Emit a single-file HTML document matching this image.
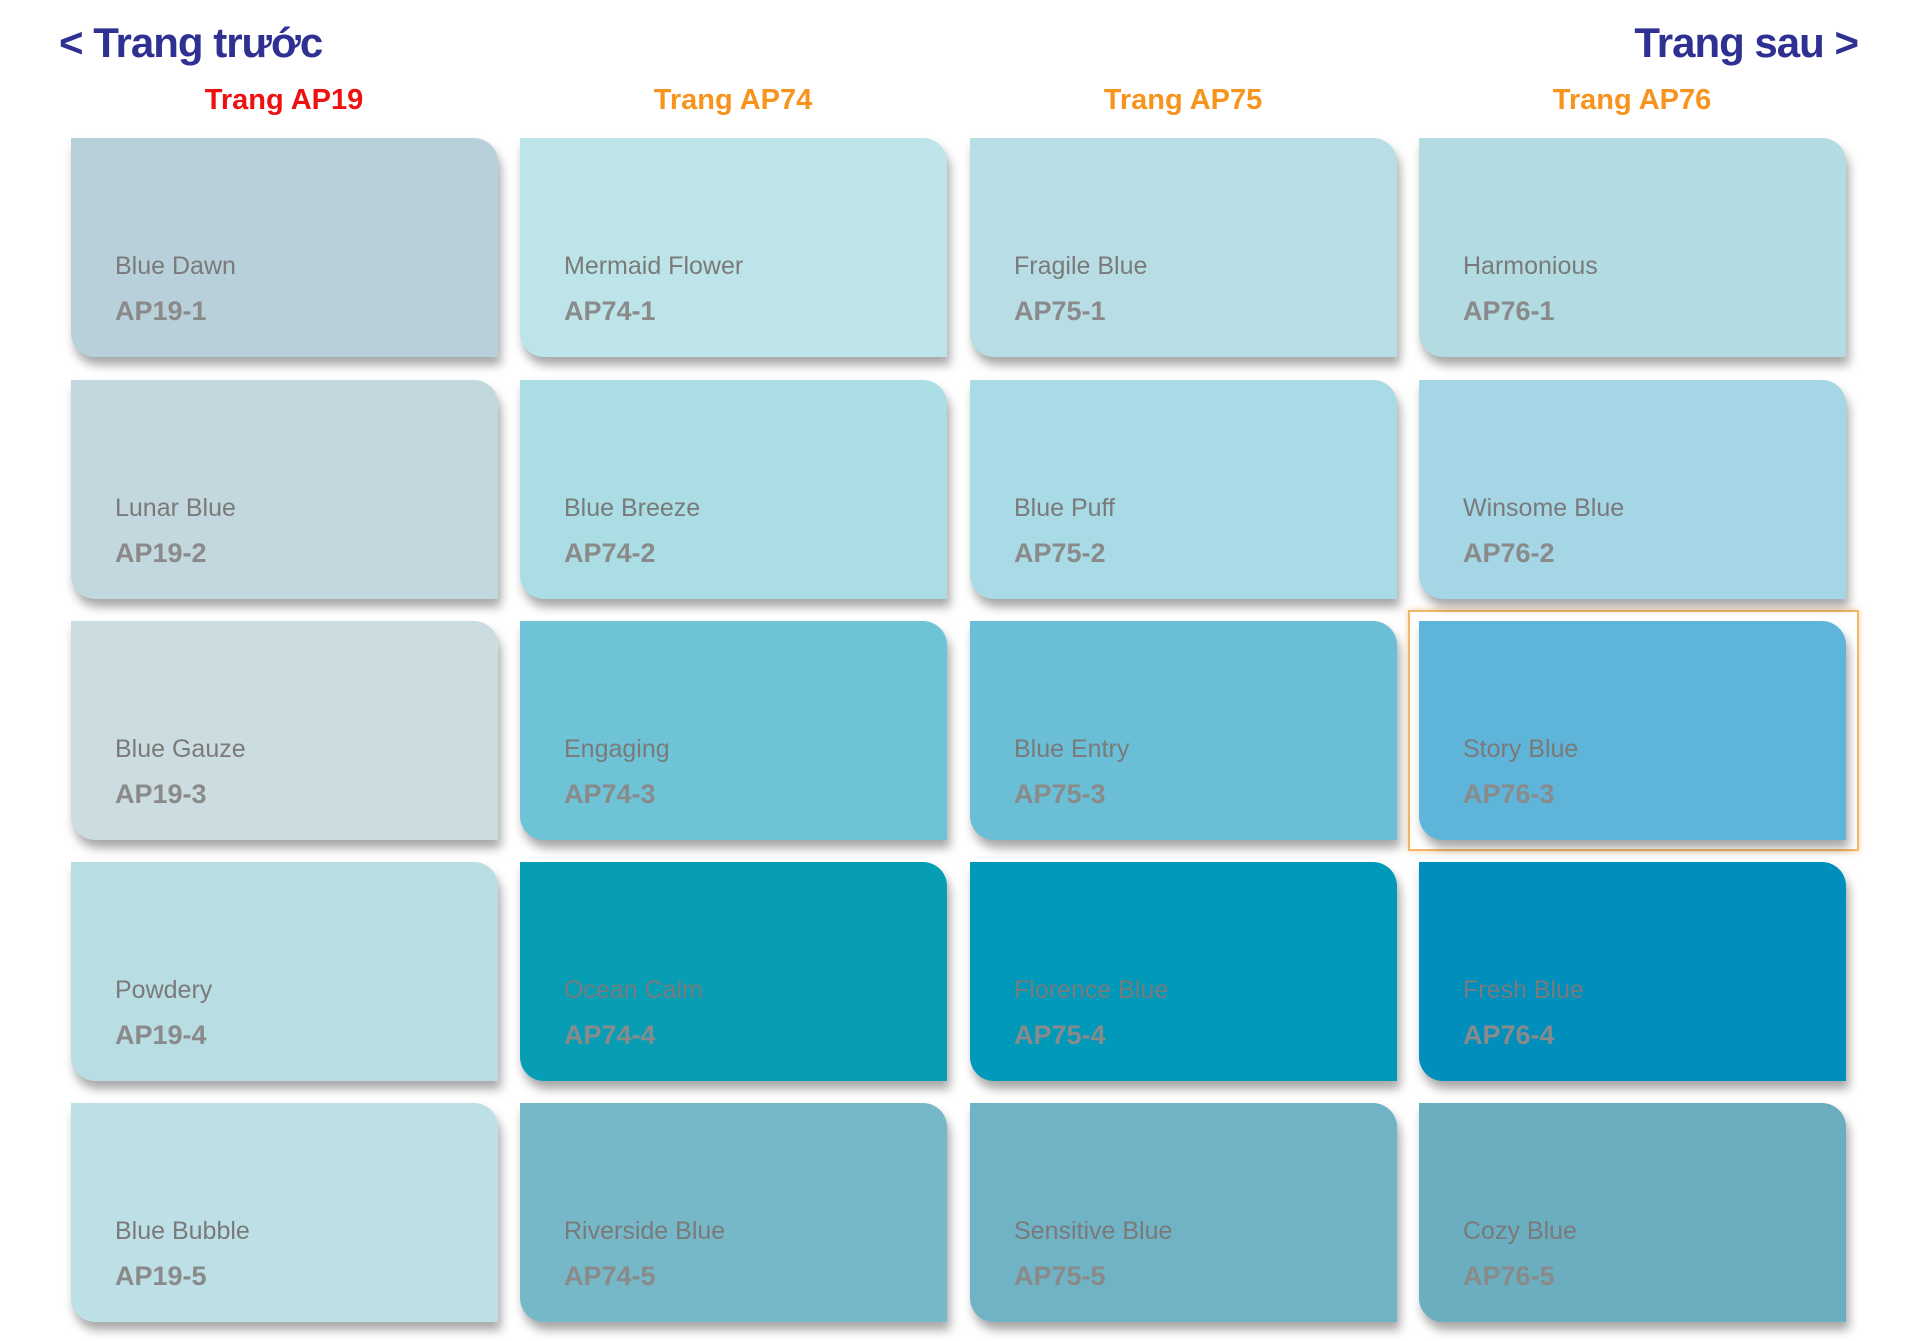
<!DOCTYPE html>
<html><head><meta charset="utf-8"><style>
body{margin:0;width:1920px;height:1341px;background:#fff;position:relative;overflow:hidden;font-family:"Liberation Sans",sans-serif}
.nav{position:absolute;top:18px;font-size:42px;font-weight:bold;color:#2e3192;line-height:50px;letter-spacing:-1px}
.h{position:absolute;top:82px;width:400px;margin-left:-200px;text-align:center;font-size:29px;font-weight:bold;color:#f7941d;line-height:36px}
.c{position:absolute;width:427px;height:219px;border-radius:0 24px 0 24px;box-shadow:3px 8px 10px rgba(0,0,0,.35)}
.c .n{position:absolute;left:44px;top:114px;font-size:25px;color:#7a7a7a}
.c .k{position:absolute;left:44px;top:158px;font-size:27px;font-weight:bold;color:#8a8a8a}
.hl{position:absolute;left:1408px;top:610px;width:447px;height:237px;border:2px solid #f2b76a;box-shadow:0 0 6px rgba(240,170,80,.6)}
</style></head><body>
<div class="nav" style="left:59px">&lt; Trang trước</div>
<div class="nav" style="right:62px">Trang sau &gt;</div>
<div class="h" style="left:284px;color:#ee1111">Trang AP19</div>
<div class="h" style="left:733px">Trang AP74</div>
<div class="h" style="left:1183px">Trang AP75</div>
<div class="h" style="left:1632px">Trang AP76</div>
<div class="hl"></div>

<div class="c" style="left:71px;top:138px;background:#b8d0da"><div class="n">Blue Dawn</div><div class="k">AP19-1</div></div>
<div class="c" style="left:520px;top:138px;background:#bde4e8"><div class="n">Mermaid Flower</div><div class="k">AP74-1</div></div>
<div class="c" style="left:970px;top:138px;background:#b8dde5"><div class="n">Fragile Blue</div><div class="k">AP75-1</div></div>
<div class="c" style="left:1419px;top:138px;background:#b2dbe2"><div class="n">Harmonious</div><div class="k">AP76-1</div></div>

<div class="c" style="left:71px;top:380px;background:#c2d8de"><div class="n">Lunar Blue</div><div class="k">AP19-2</div></div>
<div class="c" style="left:520px;top:380px;background:#aadde4"><div class="n">Blue Breeze</div><div class="k">AP74-2</div></div>
<div class="c" style="left:970px;top:380px;background:#a8dbe5"><div class="n">Blue Puff</div><div class="k">AP75-2</div></div>
<div class="c" style="left:1419px;top:380px;background:#a4d6e6"><div class="n">Winsome Blue</div><div class="k">AP76-2</div></div>

<div class="c" style="left:71px;top:621px;background:#ccdde1"><div class="n">Blue Gauze</div><div class="k">AP19-3</div></div>
<div class="c" style="left:520px;top:621px;background:#6ec4d6"><div class="n">Engaging</div><div class="k">AP74-3</div></div>
<div class="c" style="left:970px;top:621px;background:#6abfd7"><div class="n">Blue Entry</div><div class="k">AP75-3</div></div>
<div class="c" style="left:1419px;top:621px;background:#5fb4d9"><div class="n">Story Blue</div><div class="k">AP76-3</div></div>

<div class="c" style="left:71px;top:862px;background:#b8dde2"><div class="n">Powdery</div><div class="k">AP19-4</div></div>
<div class="c" style="left:520px;top:862px;background:#079eb5"><div class="n">Ocean Calm</div><div class="k">AP74-4</div></div>
<div class="c" style="left:970px;top:862px;background:#0099b9"><div class="n">Florence Blue</div><div class="k">AP75-4</div></div>
<div class="c" style="left:1419px;top:862px;background:#008fbd"><div class="n">Fresh Blue</div><div class="k">AP76-4</div></div>

<div class="c" style="left:71px;top:1103px;background:#bce0e5"><div class="n">Blue Bubble</div><div class="k">AP19-5</div></div>
<div class="c" style="left:520px;top:1103px;background:#76b8c8"><div class="n">Riverside Blue</div><div class="k">AP74-5</div></div>
<div class="c" style="left:970px;top:1103px;background:#70b3c5"><div class="n">Sensitive Blue</div><div class="k">AP75-5</div></div>
<div class="c" style="left:1419px;top:1103px;background:#6aaec0"><div class="n">Cozy Blue</div><div class="k">AP76-5</div></div>
</body></html>
